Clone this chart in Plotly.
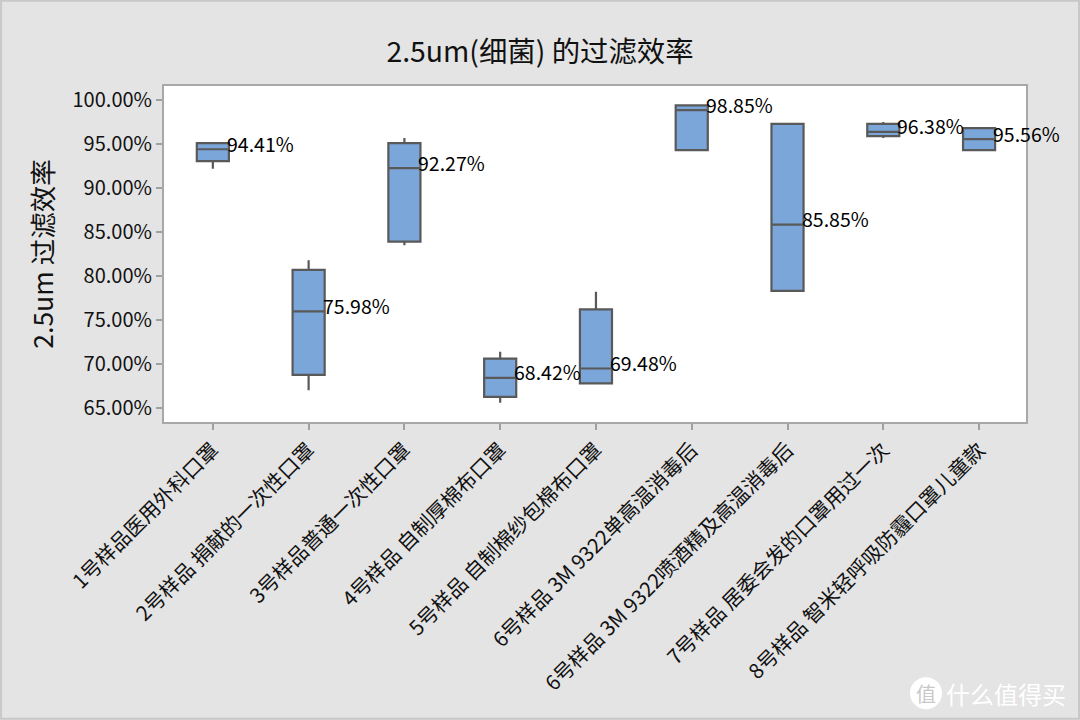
import plotly.graph_objects as go

categories = ["1号样品医用外科口罩", "2号样品 捐献的一次性口罩", "3号样品普通一次性口罩",
              "4号样品 自制厚棉布口罩", "5号样品 自制棉纱包棉布口罩", "6号样品 3M 9322单高温消毒后",
              "6号样品 3M 9322喷酒精及高温消毒后", "7号样品 居委会发的口罩用过一次",
              "8号样品 智米轻呼吸防霾口罩儿童款"]
q1 = [93.07, 68.75, 83.9, 66.25, 67.8, 94.3, 78.3, 95.9, 94.3]
median = [94.41, 75.98, 92.27, 68.42, 69.48, 98.85, 85.85, 96.38, 95.56]
q3 = [95.1, 80.7, 95.1, 70.6, 76.2, 99.4, 97.3, 97.3, 96.8]
low = [92.2, 67.0, 83.5, 65.6, 67.8, 94.3, 78.3, 95.7, 94.3]
high = [95.1, 81.8, 95.7, 71.4, 78.2, 99.4, 97.3, 97.5, 96.8]
yticks = [65, 70, 75, 80, 85, 90, 95, 100]
FONT = "Noto Sans CJK SC, Open Sans, sans-serif"

fig = go.Figure(go.Box(
    x=categories, q1=q1, median=median, q3=q3, lowerfence=low, upperfence=high,
    width=0.335, whiskerwidth=0, boxpoints=False,
    fillcolor="#7ba6da", line=dict(color="#595959", width=2.2),
    hoverinfo="skip", showlegend=False))

for c, m in zip(categories, median):
    fig.add_annotation(x=c, y=m, text=f"{m:.2f}%", showarrow=False, xanchor="left",
                       xshift=12, yshift=6, font=dict(family=FONT, size=19.5, color="#000000"))

fig.add_annotation(xref="paper", yref="paper", x=1.0487, y=-0.807, xanchor="right", yanchor="middle",
                   text="什么值得买", showarrow=False, font=dict(family=FONT, size=24, color="#ffffff"))
fig.add_annotation(xref="paper", yref="paper", x=0.884, y=-0.807, xanchor="center", yanchor="middle",
                   text="值", showarrow=False,
                   font=dict(family=FONT, size=20, color="#c9c9c9"))

fig.update_layout(
    width=1080, height=720,
    paper_bgcolor="#e4e4e4", plot_bgcolor="#ffffff",
    margin=dict(l=164, r=54, t=86, b=298),
    font=dict(family=FONT, color="#111111"),
    title=dict(text="2.5um(细菌) 的过滤效率", x=0.5, xanchor="center", y=0.928, yanchor="middle",
               font=dict(family=FONT, size=28.4, color="#111111")),
    shapes=[dict(type="rect", xref="paper", yref="paper", x0=-0.189, x1=1.0615, y0=-0.883, y1=1.254,
                 line=dict(color="#c8c8c8", width=2), fillcolor="rgba(0,0,0,0)", layer="below"),
            dict(type="circle", xref="paper", yref="paper", x0=0.8654, x1=0.9026, y0=-0.8546, y1=-0.7594,
                 line=dict(width=0), fillcolor="#ffffff", layer="below")],
)
fig.update_xaxes(range=[-0.51, 8.49], tickangle=-45, showgrid=False, zeroline=False,
                 ticks="outside", ticklen=6, tickwidth=2, tickcolor="#a0a0a0",
                 showline=True, mirror=True, linecolor="#a8a8a8", linewidth=2,
                 tickfont=dict(family=FONT, size=20.5, color="#111111"))
fig.update_yaxes(range=[63.4, 101.6], tickvals=yticks, ticktext=[f"{v:.2f}%" for v in yticks],
                 showgrid=False, zeroline=False, ticks="outside", ticklen=6, tickwidth=2,
                 tickcolor="#a0a0a0", showline=True, mirror=True, linecolor="#a8a8a8", linewidth=2,
                 tickfont=dict(family=FONT, size=20, color="#111111"),
                 title=dict(text="2.5um 过滤效率", font=dict(family=FONT, size=26.5, color="#111111"), standoff=11))

fig.write_html("out.html", config=dict(displayModeBar=False),
               post_script="document.body.style.margin='0';document.documentElement.style.overflow='hidden';")
